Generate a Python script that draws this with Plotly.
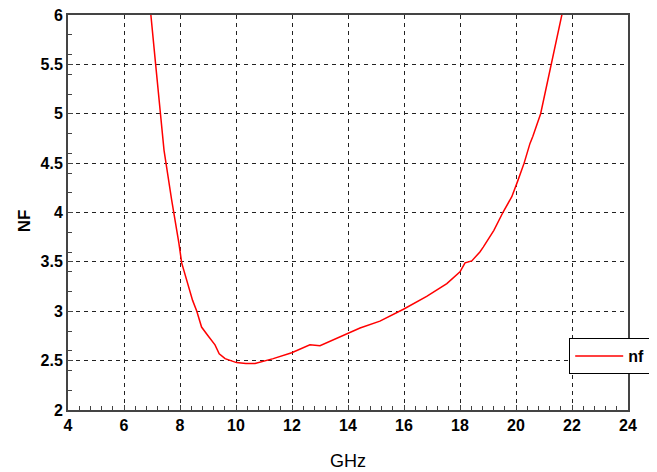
import plotly.graph_objects as go

freq_ghz = [6.92, 6.96, 7.13, 7.30, 7.43, 7.70, 7.79, 7.96, 8.06, 8.30, 8.45, 8.60, 8.77, 8.98,
            9.25, 9.40, 9.61, 10.02, 10.35, 10.68, 11.33, 11.99, 12.64, 13.0, 13.47, 13.71,
            14.01, 14.43, 15.14, 15.98, 16.81, 17.53, 18.0, 18.18, 18.42, 18.71, 18.83, 19.21,
            19.55, 19.85, 20.05, 20.29, 20.5, 20.6, 20.88, 21.27, 21.67, 21.75]
nf_values = [6.15, 6.0, 5.5, 5.0, 4.63, 4.13, 3.99, 3.69, 3.49, 3.25, 3.11, 3.0, 2.84, 2.76,
             2.66, 2.57, 2.52, 2.48, 2.47, 2.47, 2.52, 2.58, 2.66, 2.65, 2.71, 2.74,
             2.78, 2.83, 2.90, 3.02, 3.15, 3.28, 3.40, 3.49, 3.51, 3.60, 3.65, 3.82,
             4.01, 4.16, 4.31, 4.50, 4.70, 4.77, 5.0, 5.5, 6.0, 6.15]

x_ticks = [4, 6, 8, 10, 12, 14, 16, 18, 20, 22, 24]
y_ticks = [2, 2.5, 3, 3.5, 4, 4.5, 5, 5.5, 6]
y_tick_text = ["2", "2.5", "3", "3.5", "4", "4.5", "5", "5.5", "6"]

FONT = "Liberation Sans, Arial, sans-serif"

fig = go.Figure()
fig.add_trace(go.Scatter(x=freq_ghz, y=nf_values, mode="lines", name="nf",
                         line=dict(color="#FF0000", width=1.5)))

axis_common = dict(
    showline=True, linecolor="#444444", linewidth=2, mirror=True,
    showgrid=True, gridcolor="#222222", gridwidth=1.2, griddash="4px,4px",
    ticks="inside", ticklen=5, tickcolor="#444444", tickwidth=1,
    tickfont=dict(family=FONT, size=16, color="black", weight="bold"),
    zeroline=False, automargin=False, ticklabeloverflow="allow",
)

fig.update_layout(
    width=657, height=472,
    margin=dict(l=60, r=37, t=7, b=70, autoexpand=False),
    paper_bgcolor="white", plot_bgcolor="white",
    font=dict(family=FONT, color="black"),
    xaxis=dict(range=[4, 24], tickvals=x_ticks, ticktext=[str(v) for v in x_ticks],
               minor=dict(dtick=0.4, tick0=4, ticks="inside", ticklen=4,
                          tickcolor="#444444", showgrid=False),
               **axis_common),
    yaxis=dict(range=[2, 6], tickvals=y_ticks, ticktext=y_tick_text,
               minor=dict(dtick=0.2, tick0=2, ticks="inside", ticklen=4,
                          tickcolor="#444444", showgrid=False),
               **axis_common),
    showlegend=True,
    legend=dict(x=0.895, y=0.182, xanchor="left", yanchor="top",
                bgcolor="white", bordercolor="black", borderwidth=1,
                font=dict(family=FONT, size=16, color="black", weight="bold"),
                itemwidth=48),
    annotations=[
        dict(text="GHz", xref="paper", yref="paper", x=0.5, y=-0.129,
             xanchor="center", yanchor="middle", showarrow=False,
             font=dict(family=FONT, size=18, color="black")),
        dict(text="<b>NF</b>", xref="paper", yref="paper", x=-0.077, y=0.48,
             xanchor="center", yanchor="middle", showarrow=False, textangle=-90,
             font=dict(family=FONT, size=17, color="black")),
    ],
)

fig.write_html("out.html")
